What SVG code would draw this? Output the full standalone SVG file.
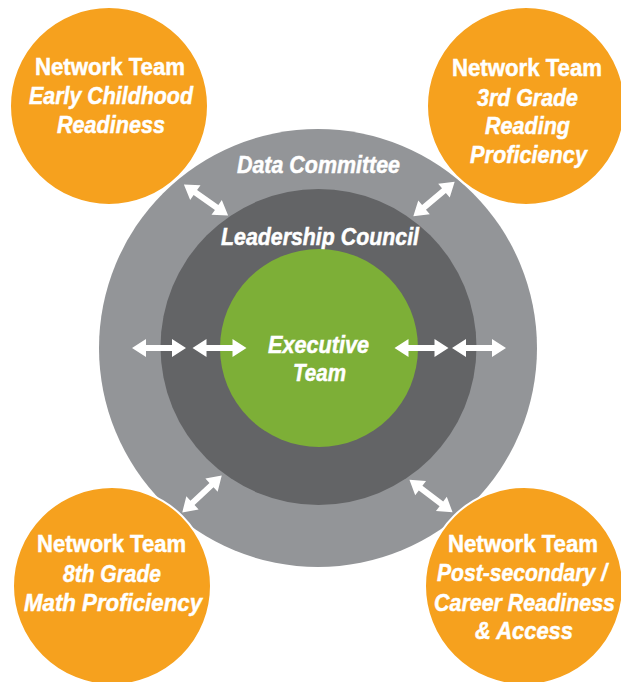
<svg xmlns="http://www.w3.org/2000/svg" width="621" height="682" viewBox="0 0 621 682">
  <style>
    .t { font-family: "Liberation Sans", Arial, sans-serif; font-weight: bold; font-size: 24px; fill: #ffffff; stroke: #ffffff; stroke-width: 0.5; text-anchor: middle; }
    .i { font-style: italic; }
    .team { fill: #F6A11E; stroke: #ffffff; stroke-width: 2; }
    .arrow { fill: #ffffff; }
  </style>
  <defs>
    <path id="dbl" d="M -27 0 L -13 -9 L -13 -3 L 13 -3 L 13 -9 L 27 0 L 13 9 L 13 3 L -13 3 L -13 9 Z"/>
  </defs>
  <rect width="621" height="682" fill="#ffffff"/>

  <!-- concentric rings -->
  <g id="data-committee">
    <circle cx="318" cy="348" r="219" fill="#939598"/>
    <text class="t i" x="318.5" y="173" textLength="163" lengthAdjust="spacingAndGlyphs">Data Committee</text>
  </g>
  <g id="leadership-council">
    <circle cx="318.5" cy="347" r="158" fill="#636466"/>
    <text class="t i" x="320" y="245" textLength="198" lengthAdjust="spacingAndGlyphs">Leadership Council</text>
  </g>
  <g id="executive-team">
    <circle cx="319" cy="348" r="99" fill="#7DAF37"/>
    <text class="t i" x="318.5" y="353" textLength="101" lengthAdjust="spacingAndGlyphs">Executive</text>
    <text class="t i" x="319.5" y="381" textLength="53" lengthAdjust="spacingAndGlyphs">Team</text>
  </g>

  <!-- network teams -->
  <g id="team-early-childhood">
    <circle class="team" cx="109" cy="106" r="99"/>
    <text class="t" x="110" y="75" textLength="150" lengthAdjust="spacingAndGlyphs">Network Team</text>
    <text class="t i" x="111" y="104" textLength="164" lengthAdjust="spacingAndGlyphs">Early Childhood</text>
    <text class="t i" x="111" y="133" textLength="108" lengthAdjust="spacingAndGlyphs">Readiness</text>
  </g>
  <g id="team-3rd-grade">
    <circle class="team" cx="526" cy="106" r="99"/>
    <text class="t" x="527" y="76" textLength="150" lengthAdjust="spacingAndGlyphs">Network Team</text>
    <text class="t i" x="527.5" y="106" textLength="101" lengthAdjust="spacingAndGlyphs">3rd Grade</text>
    <text class="t i" x="527.5" y="134" textLength="85" lengthAdjust="spacingAndGlyphs">Reading</text>
    <text class="t i" x="528.5" y="163" textLength="117" lengthAdjust="spacingAndGlyphs">Proficiency</text>
  </g>
  <g id="team-8th-grade">
    <circle class="team" cx="112" cy="586" r="99"/>
    <text class="t" x="111.5" y="552" textLength="149" lengthAdjust="spacingAndGlyphs">Network Team</text>
    <text class="t i" x="112" y="582" textLength="98" lengthAdjust="spacingAndGlyphs">8th Grade</text>
    <text class="t i" x="113" y="611" textLength="178" lengthAdjust="spacingAndGlyphs">Math Proficiency</text>
  </g>
  <g id="team-post-secondary">
    <circle class="team" cx="524" cy="586" r="99"/>
    <text class="t" x="523" y="552" textLength="150" lengthAdjust="spacingAndGlyphs">Network Team</text>
    <text class="t i" x="522" y="581" textLength="170" lengthAdjust="spacingAndGlyphs">Post-secondary /</text>
    <text class="t i" x="524.5" y="611" textLength="181" lengthAdjust="spacingAndGlyphs">Career Readiness</text>
    <text class="t i" x="524" y="639" textLength="98" lengthAdjust="spacingAndGlyphs">&amp; Access</text>
  </g>

  <!-- two-way connectors -->
  <g id="connectors" class="arrow">
    <use href="#dbl" transform="translate(159 348)"/>
    <use href="#dbl" transform="translate(219.5 348)"/>
    <use href="#dbl" transform="translate(421.5 348)"/>
    <use href="#dbl" transform="translate(479 348)"/>
    <use href="#dbl" transform="translate(206 200) rotate(35)"/>
    <use href="#dbl" transform="translate(434 199) rotate(-40)"/>
    <use href="#dbl" transform="translate(202 494) rotate(-43)"/>
    <use href="#dbl" transform="translate(431 496) rotate(37)"/>
  </g>
</svg>
